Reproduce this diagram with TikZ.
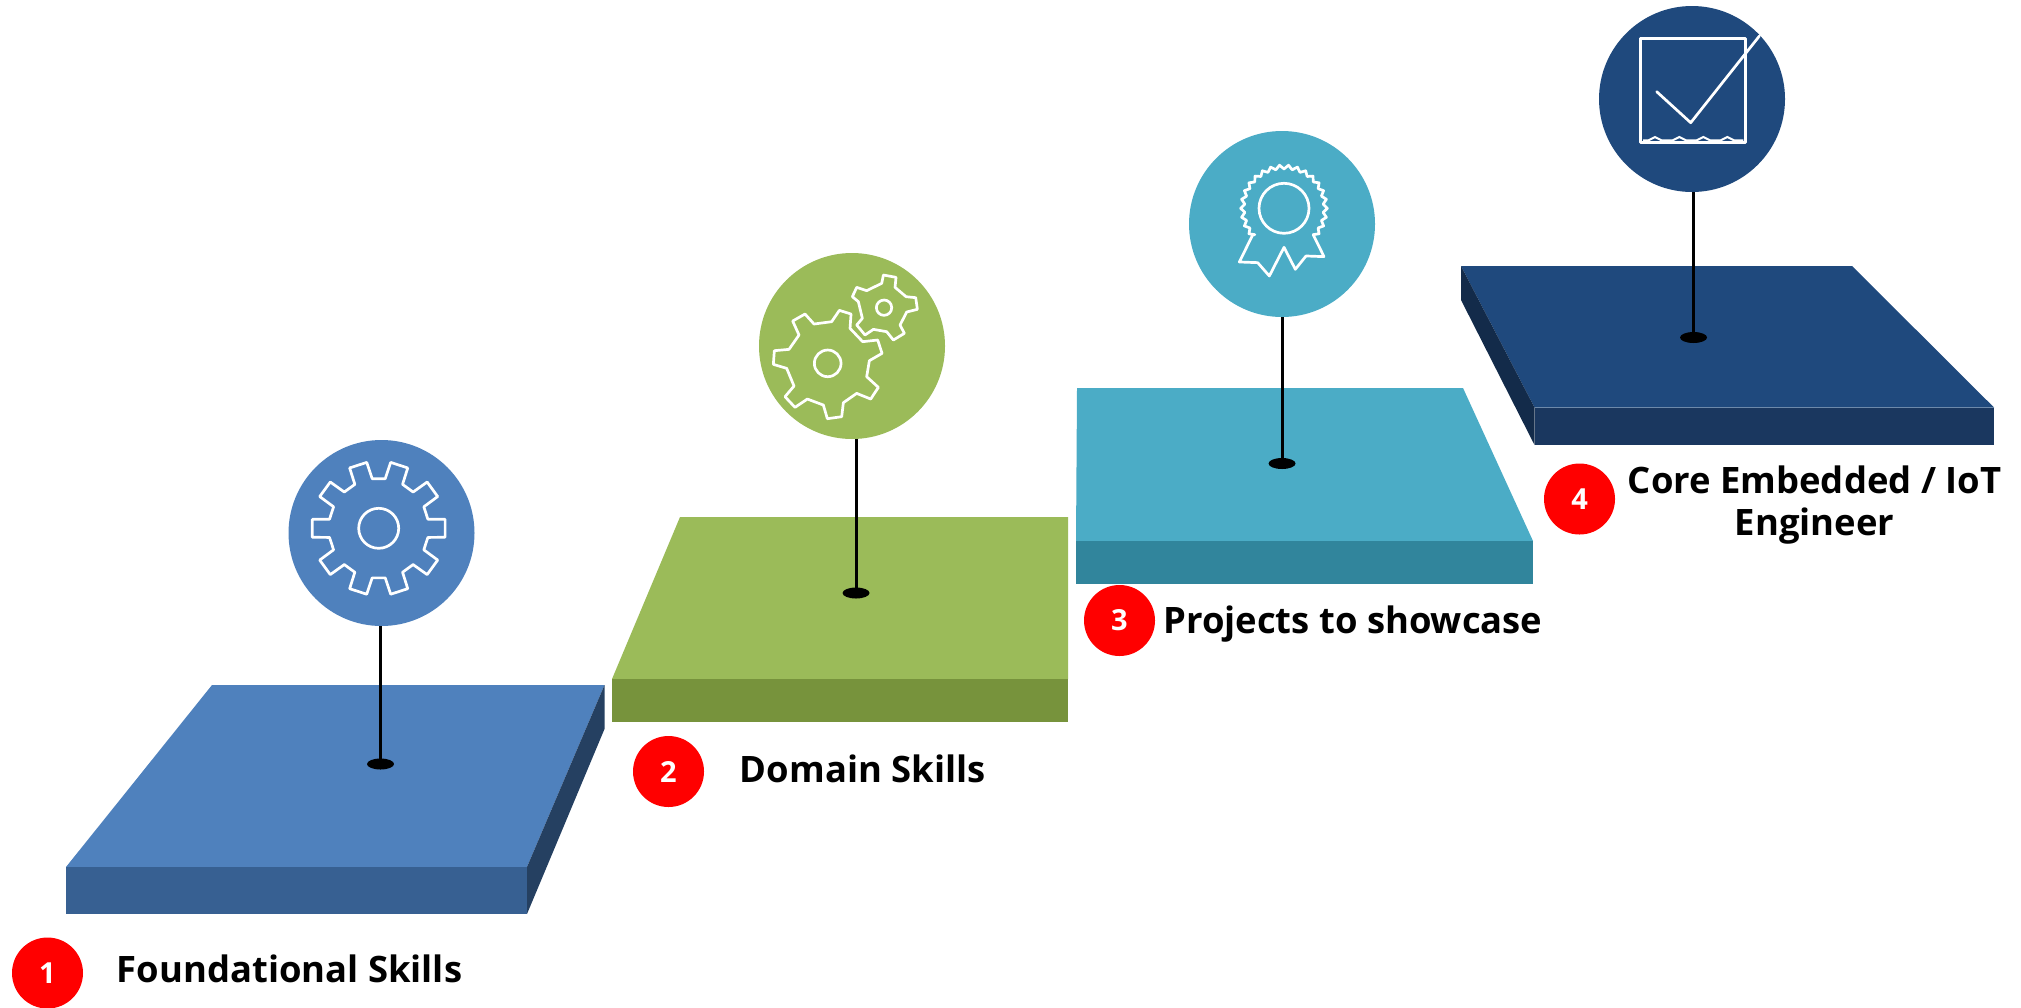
\documentclass[tikz,border=0pt]{standalone}
\usepackage{fontspec}
\setmainfont{Open Sans}
\usepackage{xcolor}
\usetikzlibrary{calc, positioning, shapes.geometric}

\definecolor{blueTop}{HTML}{4F81BD}
\definecolor{blueFront}{HTML}{376092}
\definecolor{blueSide}{HTML}{254061}
\definecolor{greenTop}{HTML}{9BBB59}
\definecolor{greenFront}{HTML}{77933C}
\definecolor{tealTop}{HTML}{4BACC6}
\definecolor{tealFront}{HTML}{31859C}
\definecolor{navyTop}{HTML}{1F497D}
\definecolor{navyFront}{HTML}{1A375F}
\definecolor{navySide}{HTML}{132B4A}

\tikzset{
    disc/.style={circle, inner sep=0, minimum size=93pt},
    dotmark/.style={ellipse, fill=black, inner sep=0, minimum width=13.5pt, minimum height=5.5pt},
    stem/.style={line width=1.5pt, black},
    badge/.style={circle, fill=red, inner sep=0, minimum size=35.5pt, text=white, font=\fontsize{14.5}{15}\selectfont\bfseries},
    steplabel/.style={inner sep=0, font=\fontsize{18.2}{21}\selectfont\bfseries},
    iconline/.style={draw=white, line width=1.35pt, line join=round}
}

\begin{document}
\begin{tikzpicture}[x=0.5pt, y=-0.5pt]
    \useasboundingbox (0,0) rectangle (2021,1007);

    % step 1
    \fill[blueTop] (212,685) -- (604.5,685) -- (527,867) -- (66,867) -- cycle;
    \fill[blueFront] (66,867) rectangle (527,914);
    \fill[blueSide] (604.5,685) -- (527,867) -- (527,914) -- (604.5,729) -- cycle;

    % step 2
    \fill[greenTop] (680,517) -- (1068,517) -- (1068,679) -- (612,679) -- cycle;
    \fill[greenFront] (612,679) rectangle (1068,722);

    % step 3
    \fill[tealTop] (1077,388) -- (1463,388) -- (1533,541) -- (1076,541) -- cycle;
    \fill[tealFront] (1076,541) rectangle (1533,584);

    % step 4
    \fill[navyTop] (1461,266) -- (1852,266) -- (1994,407.5) -- (1534.5,407.5) -- cycle;
    \fill[navyFront] (1534.5,407.5) rectangle (1994,445);
    \fill[navySide] (1461,266) -- (1534.5,407.5) -- (1534.5,445) -- (1461,300) -- cycle;

    % discs, dots and stems
    \foreach \n/\cx/\cy/\dx/\dy/\col in {1/381.5/533/380.5/764/blueTop, 2/852/346/856/593/greenTop, 3/1282/224/1282/463.5/tealTop, 4/1692/99/1693.5/337.5/navyTop} {
        \node[dotmark] (dot\n) at (\dx,\dy) {};
        \node[disc, fill=\col] (disc\n) at (\cx,\cy) {};
        \draw[stem] (disc\n.south -| dot\n) -- (dot\n.center);
    }

    % badges
    \foreach \n/\bx/\by in {1/47.5/973, 2/668.5/771.5, 3/1119.5/620.5, 4/1579.5/499} \node[badge] (badge\n) at (\bx,\by) {\n};

    % labels
    \node[steplabel, anchor=base west] (label1) at (116.5,982) {Foundational Skills};
    \node[steplabel, anchor=base west] (label2) at (739.5,782) {Domain Skills};
    \node[steplabel, anchor=base west] (label3) at (1163,633) {Projects to showcase};
    \node[steplabel, anchor=north, align=center] (label4) at (1814.5,465) {Core Embedded / IoT\\Engineer};

    % single gear
    \begin{scope}[shift={(378.7,528.3)}]
        \draw[iconline] (-10.5:50) \foreach \a in {0,36,...,324} { -- (\a-10.5:50) -- (\a-7.7:67) -- (\a+7.7:67) -- (\a+10.5:50) } -- cycle;
        \draw[iconline] (0,0) circle[radius=20];
    \end{scope}

    % two gears
    \begin{scope}[shift={(750,250)}, x=0.1667pt, y=-0.1667pt]
        \draw[iconline] (192,222) -- (245,215) -- (268,181) -- (303,192) -- (300,235) -- (338,275) -- (383,270) -- (396,310) -- (358,332) -- (350,380) -- (385,412) -- (362,447) -- (320,430) -- (280,458) -- (275,500) -- (232,506) -- (220,465) -- (172,447) -- (135,472) -- (105,440) -- (132,408) -- (110,355) -- (70,343) -- (73,302) -- (117,298) -- (147,255) -- (128,213) -- (165,192) -- cycle;
        \draw[iconline] (233,340) circle[radius=40];
        \draw[iconline] (400,75) -- (438,82) -- (435,112) -- (468,140) -- (497,143) -- (502,178) -- (470,186) -- (450,225) -- (463,250) -- (430,270) -- (410,245) -- (370,238) -- (345,255) -- (320,225) -- (337,205) -- (325,155) -- (307,140) -- (320,112) -- (350,122) -- (395,100) -- cycle;
        \draw[iconline] (402,173) circle[radius=23];
    \end{scope}

    % rosette
    \begin{scope}[shift={(1284,208.3)}, x=0.1667pt, y=-0.1667pt]
        \draw[iconline] (42:118) \foreach \a in {36,24,...,-216} { -- (\a:130) -- (\a-6:118) } -- (-94,80) -- (-134,161) -- (-79,163) -- (-44,203) -- (0,117) -- (34,183) -- (66,143) -- (120,145) -- (88,80) -- cycle;
        \draw[iconline] (0,0) circle[radius=75];
    \end{scope}

    % check box
    \begin{scope}[shift={(1600,0)}, x=0.1667pt, y=-0.1667pt]
        \draw[iconline] (122,115) rectangle (436,428);
        \draw[iconline, line cap=round] (170,275) -- (272,368) -- (478,108);
        \draw[draw=white, line width=1pt] (129,421) \foreach \a in {165,238,310,382} { -- (\a-20,421) .. controls (\a-12,421) and (\a-8,411) .. (\a,411) .. controls (\a+8,411) and (\a+12,421) .. (\a+20,421) } -- (430,421);
    \end{scope}
\end{tikzpicture}
\end{document}
